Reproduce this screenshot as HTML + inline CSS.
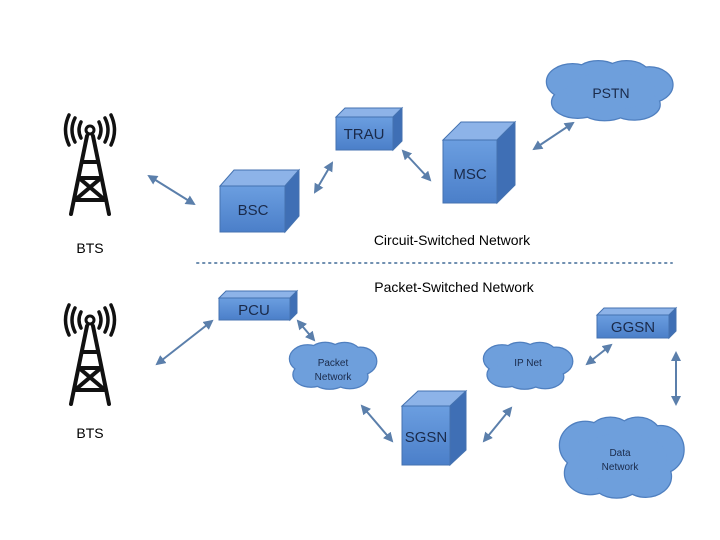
<!DOCTYPE html>
<html><head><meta charset="utf-8"><style>
body{margin:0;background:#fff}
svg{display:block;font-family:"Liberation Sans",sans-serif}
</style></head><body>
<svg width="720" height="540" viewBox="0 0 720 540" xmlns="http://www.w3.org/2000/svg">
<defs>
<linearGradient id="fr" x1="0" y1="0" x2="0" y2="1"><stop offset="0" stop-color="#6b9ee0"/><stop offset="1" stop-color="#4b7fc9"/></linearGradient>
<marker id="a" viewBox="0 0 10 10" refX="8" refY="5" markerWidth="5" markerHeight="5" orient="auto-start-reverse"><path d="M0,0 L10,5 L0,10 z" fill="#5b7fab"/></marker>
<g id="tower" stroke="#111" fill="none" stroke-linecap="round">
<circle cx="0" cy="6" r="4" stroke-width="3"/>
<path d="M-9,-2 Q-13,6 -9,14 M9,-2 Q13,6 9,14 M-15,-6 Q-21,6 -15,18 M15,-6 Q21,6 15,18 M-21,-9 Q-28,6 -21,21 M21,-9 Q28,6 21,21" stroke-width="3.5"/>
<path d="M-3,12 L-19,90 M3,12 L19,90 M-7,38 L7,38 M-11,54 L11,54 M-11,54 L15,76 M11,54 L-15,76 M-15,76 L15,76" stroke-width="4"/>
</g>
<g id="clouds">
<ellipse cx="572.6" cy="81.7" rx="25.6" ry="17.4"/><ellipse cx="598.2" cy="74.9" rx="23" ry="13.6"/><ellipse cx="626.4" cy="75.5" rx="23" ry="14.3"/><ellipse cx="649.4" cy="84.8" rx="23" ry="17.4"/><ellipse cx="634" cy="104.6" rx="25.6" ry="14.9"/><ellipse cx="604.6" cy="106.5" rx="25.6" ry="13.6"/><ellipse cx="577.7" cy="102.2" rx="25.6" ry="15.5"/><ellipse cx="611" cy="91" rx="44.8" ry="18.6"/>
<ellipse cx="307.6" cy="358.8" rx="17.6" ry="13.4"/><ellipse cx="325.2" cy="353.5" rx="15.8" ry="10.6"/><ellipse cx="344.6" cy="354" rx="15.8" ry="11"/><ellipse cx="360.4" cy="361.2" rx="15.8" ry="13.4"/><ellipse cx="349.8" cy="376.6" rx="17.6" ry="11.5"/><ellipse cx="329.6" cy="378" rx="17.6" ry="10.6"/><ellipse cx="311.1" cy="374.6" rx="17.6" ry="12"/><ellipse cx="334" cy="366" rx="30.8" ry="14.4"/>
<ellipse cx="502" cy="358.8" rx="18" ry="13.4"/><ellipse cx="520" cy="353.5" rx="16.2" ry="10.6"/><ellipse cx="539.8" cy="354" rx="16.2" ry="11"/><ellipse cx="556" cy="361.2" rx="16.2" ry="13.4"/><ellipse cx="545.2" cy="376.6" rx="18" ry="11.5"/><ellipse cx="524.5" cy="378" rx="18" ry="10.6"/><ellipse cx="505.6" cy="374.6" rx="18" ry="12"/><ellipse cx="529" cy="366" rx="31.5" ry="14.4"/>
<ellipse cx="585.2" cy="445.4" rx="25.2" ry="23.5"/><ellipse cx="610.4" cy="436.2" rx="22.7" ry="18.5"/><ellipse cx="638.1" cy="437" rx="22.7" ry="19.3"/><ellipse cx="660.8" cy="449.6" rx="22.7" ry="23.5"/><ellipse cx="645.7" cy="476.5" rx="25.2" ry="20.2"/><ellipse cx="616.7" cy="479" rx="25.2" ry="18.5"/><ellipse cx="590.2" cy="473.1" rx="25.2" ry="21"/><ellipse cx="623" cy="458" rx="44.1" ry="25.2"/>
</g>
</defs>

<use href="#tower" x="90" y="124"/>
<use href="#tower" x="90" y="314"/>
<text x="90" y="253" font-size="14" text-anchor="middle">BTS</text>
<text x="90" y="438" font-size="14" text-anchor="middle">BTS</text>

<g stroke="#4472b0" stroke-width="1">
<polygon points="220,186 234,170 299,170 285,186" fill="#8db3e8"/><polygon points="285,186 299,170 299,216 285,232" fill="#3f6fb5"/><rect x="220" y="186" width="65" height="46" fill="url(#fr)"/>
<polygon points="336,117 345,108 402,108 393,117" fill="#8db3e8"/><polygon points="393,117 402,108 402,141 393,150" fill="#3f6fb5"/><rect x="336" y="117" width="57" height="33" fill="url(#fr)"/>
<polygon points="443,140 461,122 515,122 497,140" fill="#8db3e8"/><polygon points="497,140 515,122 515,185 497,203" fill="#3f6fb5"/><rect x="443" y="140" width="54" height="63" fill="url(#fr)"/>
<polygon points="219,298 226,291 297,291 290,298" fill="#8db3e8"/><polygon points="290,298 297,291 297,313 290,320" fill="#3f6fb5"/><rect x="219" y="298" width="71" height="22" fill="url(#fr)"/>
<polygon points="402,406 418,391 466,391 450,406" fill="#8db3e8"/><polygon points="450,406 466,391 466,450 450,465" fill="#3f6fb5"/><rect x="402" y="406" width="48" height="59" fill="url(#fr)"/>
<polygon points="597,315 604,308 676,308 669,315" fill="#8db3e8"/><polygon points="669,315 676,308 676,331 669,338" fill="#3f6fb5"/><rect x="597" y="315" width="72" height="23" fill="url(#fr)"/>
</g>
<g font-size="15" fill="#1a2a4a" text-anchor="middle">
<text x="253" y="215">BSC</text><text x="364" y="139">TRAU</text><text x="470" y="179">MSC</text>
<text x="254" y="315">PCU</text><text x="426" y="442">SGSN</text><text x="633" y="332">GGSN</text>
</g>

<use href="#clouds" stroke="#4f7fbf" stroke-width="2.5" fill="#6e9fdc"/>
<use href="#clouds" fill="#6e9fdc"/>
<g fill="#1a2a4a" text-anchor="middle">
<text x="611" y="98" font-size="14">PSTN</text>
<text x="333" y="366" font-size="10">Packet</text><text x="333" y="380" font-size="10">Network</text>
<text x="528" y="366" font-size="10">IP Net</text>
<text x="620" y="456" font-size="10">Data</text><text x="620" y="470" font-size="10">Network</text>
</g>

<g stroke="#5b7fab" stroke-width="2" marker-start="url(#a)" marker-end="url(#a)">
<line x1="149" y1="176" x2="194" y2="204"/>
<line x1="315" y1="192" x2="332" y2="163"/>
<line x1="403" y1="151" x2="430" y2="180"/>
<line x1="534" y1="149" x2="573" y2="123"/>
<line x1="157" y1="364" x2="212" y2="321"/>
<line x1="298" y1="321" x2="314" y2="340"/>
<line x1="362" y1="406" x2="392" y2="441"/>
<line x1="484" y1="441" x2="511" y2="408"/>
<line x1="587" y1="364" x2="611" y2="345"/>
<line x1="676" y1="353" x2="676" y2="404"/>
</g>

<line x1="197" y1="263" x2="672" y2="263" stroke="#6f8fb0" stroke-width="2" stroke-dasharray="1.5,4.5" stroke-linecap="round"/>
<text x="452" y="245" font-size="14" text-anchor="middle">Circuit-Switched Network</text>
<text x="454" y="292" font-size="14" text-anchor="middle">Packet-Switched Network</text>
</svg>
</body></html>
